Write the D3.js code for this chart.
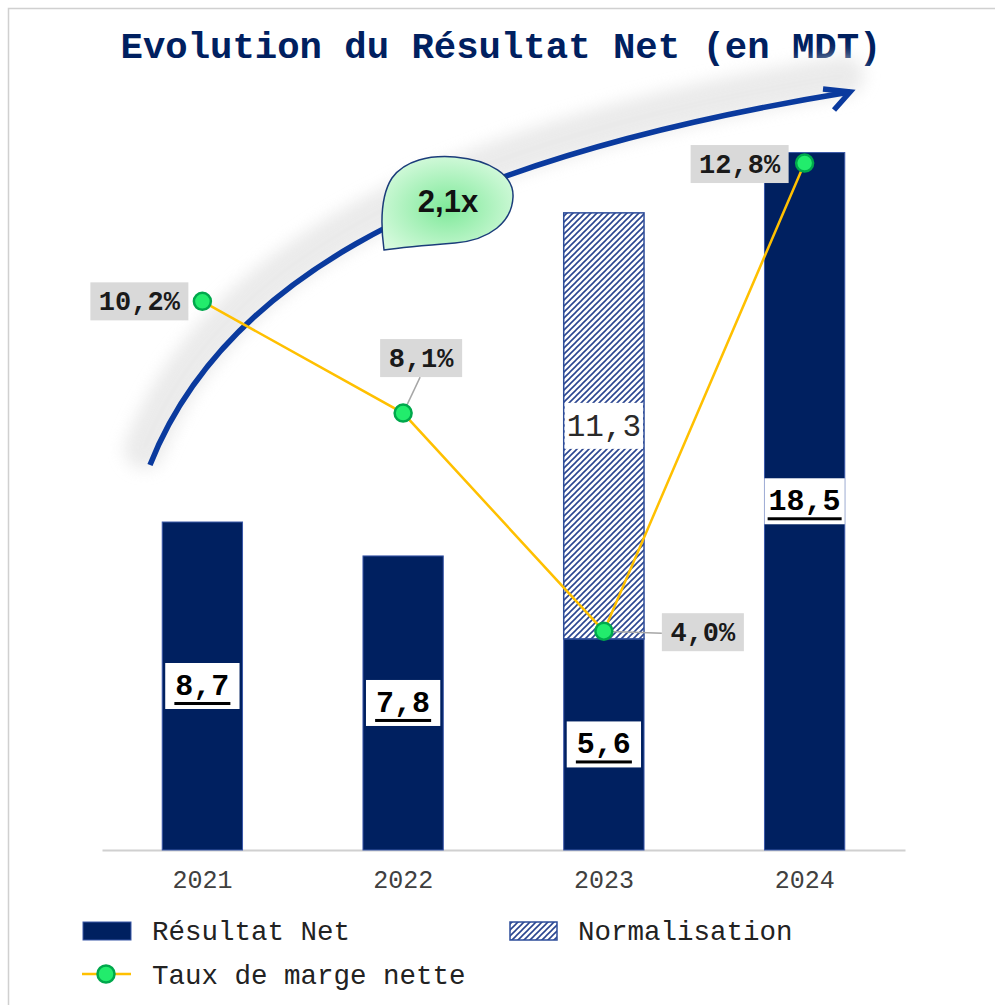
<!DOCTYPE html>
<html><head><meta charset="utf-8">
<script src="https://cdn.jsdelivr.net/npm/d3@7"></script>
<style>
html,body{margin:0;padding:0;background:#fff;}
svg{display:block;}
</style></head>
<body>
<script>
// ---- data ----
const years = ["2021", "2022", "2023", "2024"];
const resultatNet = [8.7, 7.8, 5.6, 18.5];
const normalisation = [0, 0, 11.3, 0];
const tauxMarge = [10.2, 8.1, 4.0, 12.8];
const growthLabel = "2,1x";
const legendLabels = ["Résultat Net", "Normalisation", "Taux de marge nette"];
const titleText = "Evolution du Résultat Net (en MDT)";

// layout (not data)
const pctPlacement = ["left", "above", "right", "left"];

const W = 995, H = 1005;
const FONT = "'Liberation Mono','Courier New',monospace";
const NAVY = "#002060";
const fmt = v => v.toFixed(1).replace(".", ",");

const svg = d3.select("body").append("svg").attr("width", W).attr("height", H);
const defs = svg.append("defs");

const pat = defs.append("pattern").attr("id", "hatch").attr("patternUnits", "userSpaceOnUse")
  .attr("width", 6).attr("height", 6);
pat.append("rect").attr("width", 6).attr("height", 6).attr("fill", "#fff");
pat.append("path").attr("d", "M-1,1 l2,-2 M0,6 l6,-6 M5,7 l2,-2")
  .attr("stroke", "#2a4590").attr("stroke-width", 1.6);

const blur = defs.append("filter").attr("id", "blur").attr("x", "-20%").attr("y", "-20%").attr("width", "140%").attr("height", "140%");
blur.append("feGaussianBlur").attr("stdDeviation", 8);

const rg = defs.append("radialGradient").attr("id", "bubbleGrad").attr("cx", "50%").attr("cy", "55%").attr("r", "60%");
rg.append("stop").attr("offset", "0%").attr("stop-color", "#7fe99a");
rg.append("stop").attr("offset", "100%").attr("stop-color", "#d6fadd");

// border
svg.append("rect").attr("x", 8.5).attr("y", 8.5).attr("width", W).attr("height", H)
  .attr("fill", "none").attr("stroke", "#d0d0d0").attr("stroke-width", 1.5);

// title
svg.append("text").attr("x", 501).attr("y", 58).attr("text-anchor", "middle")
  .attr("font-family", FONT).attr("font-weight", "bold").attr("font-size", 37.3)
  .attr("fill", NAVY).text(titleText);

// scales
const x = d3.scaleBand().domain(years).range([102, 905]).paddingInner(0.6).paddingOuter(0.3);
const y = d3.scaleLinear().domain([0, 20]).range([850, 850 - 20 * 37.7]);
const y2 = d3.scaleLinear().domain([0, 14]).range([844, 844 - 14 * 53.2]);

// growth arrow with shadow
const arrowPath = "M150,465 C215,300 400,165 850,92";
svg.append("path").attr("d", arrowPath).attr("transform", "translate(-6,-16)")
  .attr("fill", "none").attr("stroke", "#e4e4e4").attr("stroke-width", 40)
  .attr("stroke-linecap", "round").attr("opacity", 0.75).attr("filter", "url(#blur)");
svg.append("path").attr("d", arrowPath).attr("fill", "none")
  .attr("stroke", "#0a3a9e").attr("stroke-width", 5.5);
svg.append("path").attr("d", "M823,89 L850,92 L834,110").attr("fill", "none")
  .attr("stroke", "#0a3a9e").attr("stroke-width", 5.5).attr("stroke-linejoin", "miter");

// bubble
svg.append("path")
  .attr("d", "M384,250 C380,220 381,195 392,178 C405,160 430,155 455,157 C490,160 514,175 513,197 C512,222 490,240 455,243 C430,245 405,247 384,250 Z")
  .attr("fill", "url(#bubbleGrad)").attr("stroke", "#1b3c7a").attr("stroke-width", 1.5);
svg.append("text").attr("x", 448).attr("y", 212).attr("text-anchor", "middle")
  .attr("font-family", "'Liberation Sans',Arial,sans-serif").attr("font-weight", "bold")
  .attr("font-size", 31).attr("fill", "#111").text(growthLabel);

// axis
const axisG = svg.append("g").attr("transform", "translate(0,850)")
  .call(d3.axisBottom(x).tickSize(0).tickPadding(20));
axisG.select(".domain").attr("stroke", "#d0d0d0").attr("stroke-width", 2);
axisG.selectAll("text").attr("font-family", FONT).attr("font-size", 25).attr("fill", "#404040");

// bars
const bw = x.bandwidth();
svg.append("g").selectAll("rect").data(years).join("rect")
  .attr("x", d => x(d)).attr("width", bw)
  .attr("y", (d, i) => y(resultatNet[i])).attr("height", (d, i) => y(0) - y(resultatNet[i]))
  .attr("fill", NAVY).attr("stroke", "#3a58a8").attr("stroke-width", 1);
svg.append("g").selectAll("rect").data(years.filter((d, i) => normalisation[i] > 0)).join("rect")
  .attr("x", d => x(d)).attr("width", bw)
  .attr("y", d => { const i = years.indexOf(d); return y(resultatNet[i] + normalisation[i]); })
  .attr("height", d => { const i = years.indexOf(d); return y(resultatNet[i]) - y(resultatNet[i] + normalisation[i]); })
  .attr("fill", "url(#hatch)").attr("stroke", "#2e4d9a").attr("stroke-width", 1.5);

// value labels
years.forEach((d, i) => {
  const cx = x(d) + bw / 2;
  const cy = (y(0) + y(resultatNet[i])) / 2;
  const wide = i === 3;
  const bwid = wide ? bw : bw - 6;
  const g = svg.append("g");
  g.append("rect").attr("x", cx - bwid / 2).attr("y", cy - 23).attr("width", bwid).attr("height", 46)
    .attr("fill", "#fff");
  const t = g.append("text").attr("x", cx).attr("y", cy + 9).attr("text-anchor", "middle")
    .attr("font-family", FONT).attr("font-weight", "bold").attr("font-size", 30)
    .attr("fill", "#000").text(fmt(resultatNet[i]));
  const tw = t.node().getComputedTextLength();
  g.append("rect").attr("x", cx - tw / 2 - 1).attr("y", cy + 16).attr("width", tw + 2).attr("height", 3).attr("fill", "#000");
  if (normalisation[i] > 0) {
    const cy2 = (y(resultatNet[i]) + y(resultatNet[i] + normalisation[i])) / 2;
    svg.append("rect").attr("x", x(d) + 1).attr("y", cy2 - 23).attr("width", bw - 2).attr("height", 46).attr("fill", "#fff");
    svg.append("text").attr("x", cx).attr("y", cy2 + 10).attr("text-anchor", "middle")
      .attr("font-family", FONT).attr("font-size", 31).attr("fill", "#2a2a2a").text(fmt(normalisation[i]));
  }
});

// margin line
const pts = years.map((d, i) => [x(d) + bw / 2, y2(tauxMarge[i])]);
// leader lines & labels
const lblG = svg.append("g");
pts.forEach((p, i) => {
  const txt = fmt(tauxMarge[i]) + "%";
  const bwid = txt.length === 5 ? 98 : 82, bh = 38;
  let bx, by;
  if (pctPlacement[i] === "left") { bx = p[0] - 14 - bwid; by = p[1] - bh / 2; }
  else if (pctPlacement[i] === "above") { bx = p[0] - 23; by = p[1] - 74; }
  else { bx = p[0] + 58; by = p[1] - 18; }
  if (pctPlacement[i] === "above") {
    lblG.append("line").attr("x1", p[0]).attr("y1", p[1]).attr("x2", p[0] + 17).attr("y2", by + bh)
      .attr("stroke", "#a6a6a6").attr("stroke-width", 1.5);
  } else if (pctPlacement[i] === "right") {
    lblG.append("line").attr("x1", p[0]).attr("y1", p[1]).attr("x2", bx).attr("y2", p[1] + 2)
      .attr("stroke", "#a6a6a6").attr("stroke-width", 1.5);
  }
  if (i === 3) { bx = p[0] - 114; by = p[1] - 18; }
  lblG.append("rect").attr("x", bx).attr("y", by).attr("width", bwid).attr("height", bh).attr("fill", "#d9d9d9");
  lblG.append("text").attr("x", bx + bwid / 2).attr("y", by + bh / 2 + 9).attr("text-anchor", "middle")
    .attr("font-family", FONT).attr("font-weight", "bold").attr("font-size", 27).attr("fill", "#1a1a1a").text(txt);
});
svg.append("path").attr("d", d3.line()(pts)).attr("fill", "none")
  .attr("stroke", "#ffc000").attr("stroke-width", 2.5);
svg.append("g").selectAll("circle").data(pts).join("circle")
  .attr("cx", d => d[0]).attr("cy", d => d[1]).attr("r", 8.5)
  .attr("fill", "#22ec6c").attr("stroke", "#00a84c").attr("stroke-width", 2.5);

// legend
const lg = svg.append("g").attr("font-family", FONT).attr("font-size", 27.5).attr("fill", "#222");
lg.append("rect").attr("x", 83).attr("y", 922).attr("width", 48).attr("height", 18)
  .attr("fill", NAVY).attr("stroke", "#3a58a8").attr("stroke-width", 1);
lg.append("text").attr("x", 152).attr("y", 940).text(legendLabels[0]);
lg.append("rect").attr("x", 510).attr("y", 922).attr("width", 47).attr("height", 18)
  .attr("fill", "url(#hatch)").attr("stroke", "#2e4d9a").attr("stroke-width", 1.5);
lg.append("text").attr("x", 578).attr("y", 940).text(legendLabels[1]);
lg.append("line").attr("x1", 82).attr("x2", 131).attr("y1", 974).attr("y2", 974)
  .attr("stroke", "#ffc000").attr("stroke-width", 2.5);
lg.append("circle").attr("cx", 106).attr("cy", 974).attr("r", 8.5)
  .attr("fill", "#22ec6c").attr("stroke", "#00a84c").attr("stroke-width", 2.5);
lg.append("text").attr("x", 152).attr("y", 984).text(legendLabels[2]);
</script>
</body></html>
